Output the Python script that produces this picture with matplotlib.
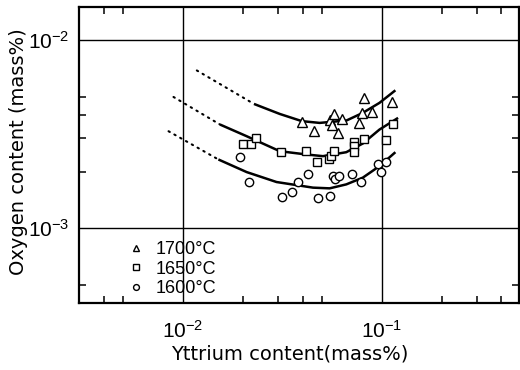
import matplotlib.pyplot as plt
from matplotlib.ticker import FixedLocator, FixedFormatter, NullFormatter

# measured oxygen vs yttrium content (mass%)
y_1700 = [0.0398, 0.0455, 0.0552, 0.0574, 0.0560, 0.0630, 0.0605, 0.0817, 0.0799, 0.0771, 0.0897, 0.1129]
o_1700 = [0.00368, 0.00328, 0.00377, 0.00406, 0.00354, 0.00381, 0.00320, 0.00490, 0.00410, 0.00361, 0.00415, 0.00469]

y_1650 = [0.0201, 0.0219, 0.0232, 0.0310, 0.0415, 0.0475, 0.0540, 0.0556, 0.0578, 0.0724, 0.0726, 0.0728, 0.0810, 0.1051, 0.1142]
o_1650 = [0.00279, 0.00279, 0.00300, 0.00255, 0.00256, 0.00226, 0.00233, 0.00242, 0.00256, 0.00288, 0.00272, 0.00253, 0.00299, 0.00295, 0.00357]

y_1600 = [0.0194, 0.0215, 0.0315, 0.0353, 0.0380, 0.0427, 0.0478, 0.0547, 0.0568, 0.0579, 0.0607, 0.0711, 0.0788, 0.0954, 0.1050, 0.0993]
o_1600 = [0.00240, 0.00175, 0.00147, 0.00155, 0.00177, 0.00193, 0.00144, 0.00148, 0.00189, 0.00183, 0.00190, 0.00193, 0.00175, 0.00220, 0.00225, 0.00199]

# calculated equilibrium curves (solid) and their extrapolation (dotted)
cy_1700 = [0.02275, 0.0307, 0.0396, 0.0487, 0.0665, 0.0801, 0.0974, 0.1171]
co_1700 = [0.00458, 0.00405, 0.00371, 0.00363, 0.00374, 0.00410, 0.00464, 0.00541]
ey_1700 = [0.01174, 0.02275]
eo_1700 = [0.00690, 0.00458]

cy_1650 = [0.01537, 0.02091, 0.0307, 0.0418, 0.0506, 0.0663, 0.0803, 0.0974, 0.1208]
co_1650 = [0.003557, 0.003084, 0.002567, 0.002466, 0.002416, 0.002536, 0.002821, 0.003346, 0.00386]
ey_1650 = [0.00896, 0.01537]
eo_1650 = [0.004987, 0.003557]

cy_1600 = [0.01507, 0.02091, 0.02956, 0.04508, 0.05467, 0.0663, 0.0803, 0.0974, 0.1171]
co_1600 = [0.00232, 0.001988, 0.00176, 0.001643, 0.001629, 0.00171, 0.001857, 0.002139, 0.002536]
ey_1600 = [0.00846, 0.01507]
eo_1600 = [0.003278, 0.00232]

labels = ['1700°C', '1650°C', '1600°C']
x_major = [0.01, 0.1]
x_major_labels = [r'$\mathregular{10^{-2}}$', r'$\mathregular{10^{-1}}$']
y_major = [0.001, 0.01]
y_major_labels = [r'$\mathregular{10^{-3}}$', r'$\mathregular{10^{-2}}$']
x_minor = [0.004, 0.005, 0.02, 0.03, 0.04, 0.05, 0.2, 0.3, 0.4]
y_minor = [0.0005, 0.002, 0.003, 0.004, 0.005]

plt.rcParams['font.family'] = ['Liberation Sans', 'DejaVu Sans']

fig = plt.figure(figsize=(5.2, 3.7), dpi=100)
ax = fig.add_axes([0.152, 0.181, 0.846, 0.8])

ax.set_xscale('log')
ax.set_yscale('log')
ax.set_xlim(0.003, 0.49)
ax.set_ylim(0.0004, 0.015)

for xs, os_ in [(ey_1700, eo_1700), (ey_1650, eo_1650), (ey_1600, eo_1600)]:
    ax.plot(xs, os_, color='black', lw=1.5, linestyle=(0, (0.7, 2.5)), dash_capstyle='round')
for xs, os_ in [(cy_1700, co_1700), (cy_1650, co_1650), (cy_1600, co_1600)]:
    ax.plot(xs, os_, color='black', lw=1.8, solid_capstyle='butt')

mk = dict(mfc='white', mec='black', mew=1.0, linestyle='none')
h1, = ax.plot(y_1700, o_1700, marker='^', ms=7, label=labels[0], **mk)
h2, = ax.plot(y_1650, o_1650, marker='s', ms=6, label=labels[1], **mk)
h3, = ax.plot(y_1600, o_1600, marker='o', ms=6, label=labels[2], **mk)

ax.xaxis.set_major_locator(FixedLocator(x_major))
ax.xaxis.set_major_formatter(FixedFormatter(x_major_labels))
ax.yaxis.set_major_locator(FixedLocator(y_major))
ax.yaxis.set_major_formatter(FixedFormatter(y_major_labels))
ax.xaxis.set_minor_locator(FixedLocator(x_minor))
ax.yaxis.set_minor_locator(FixedLocator(y_minor))
ax.xaxis.set_minor_formatter(NullFormatter())
ax.yaxis.set_minor_formatter(NullFormatter())

ax.tick_params(which='major', length=0, labelsize=15)
ax.tick_params(axis='x', which='major', pad=12)
ax.tick_params(axis='y', which='major', pad=7)
ax.tick_params(which='minor', direction='in', length=5, width=1.1,
               top=True, right=True)
ax.grid(which='major', color='black', lw=1.0)

for s in ax.spines.values():
    s.set_linewidth(1.6)

ax.set_xlabel('Yttrium content(mass%)', fontsize=14, family='DejaVu Sans')
ax.set_ylabel('Oxygen content (mass%)', fontsize=14, family='DejaVu Sans')
ax.xaxis.set_label_coords(0.48, -0.14)
ax.yaxis.set_label_coords(-0.115, 0.51)

ax.legend(handles=[h1, h2, h3], loc='lower left', bbox_to_anchor=(0.075, -0.03),
          frameon=False, fontsize=13, markerscale=0.7, handlelength=1.0,
          handletextpad=0.6, labelspacing=0.15, borderpad=0.3)

fig.savefig('out.png', dpi=100)
